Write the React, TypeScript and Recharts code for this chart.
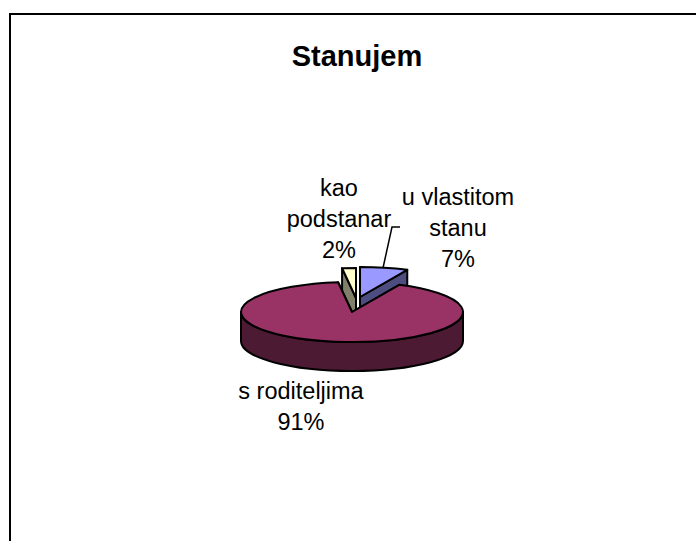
// Stanujem - flattened 3D pie drawn through Pie's own angles
import { PieChart, Pie } from 'recharts';

const categories = ['kao podstanar', 'u vlastitom stanu', 's roditeljima'];
const shares = [2, 7, 91];
const labelLines = [['kao', 'podstanar', '2%'], ['u vlastitom', 'stanu', '7%'], ['s roditeljima', '91%']];
const topColors = ['#FFFFCC', '#9999FF', '#993366'];
const sideColors = ['#80806A', '#4D4D80', '#4D1A33'];

const W = 696;
const H = 541;
const TILT = 30 / 111;
const DEPTH = 29;
const EXPLODE = [[4, -14], [8, -15], [0, 0]];
const LABEL_POS = [[339, 188], [458, 197], [301, 391]];
const LINE_H = 31;

const data = categories.map((name, i) => ({ name, value: shares[i] }));

const rad = (a: number) => (a * Math.PI) / 180;

function Slice3D(props: any) {
  const { cx, cy, outerRadius: r, startAngle, endAngle, index } = props;
  const [dx, dy] = EXPLODE[index];
  const ox = cx + dx;
  const oy = cy + dy;
  const ry = r * TILT;
  const pt = (a: number, down = 0) => [ox + r * Math.cos(rad(a)), oy - ry * Math.sin(rad(a)) + down];
  const stroke = { stroke: '#000', strokeWidth: 2, strokeLinejoin: 'round' as const };

  // cut faces
  const cut = (a: number) => {
    const [x, y] = pt(a);
    const [xd, yd] = pt(a, DEPTH);
    return `M${ox} ${oy}L${x} ${y}L${xd} ${yd}L${ox} ${oy + DEPTH}Z`;
  };

  // outer wall, front half only
  const from = Math.min(startAngle, 0);
  const to = Math.max(endAngle, -180);
  let wall = null;
  if (from > to) {
    const [sx, sy] = pt(from);
    const [ex, ey] = pt(to);
    const [bx, by] = pt(to, DEPTH);
    const [fx, fy] = pt(from, DEPTH);
    wall = `M${sx} ${sy}A${r} ${ry} 0 0 1 ${ex} ${ey}L${bx} ${by}A${r} ${ry} 0 0 0 ${fx} ${fy}Z`;
  }

  const [tx, ty] = pt(startAngle);
  const [ax, ay] = pt(endAngle);
  const large = Math.abs(startAngle - endAngle) > 180 ? 1 : 0;
  const top = `M${ox} ${oy}L${tx} ${ty}A${r} ${ry} 0 ${large} 1 ${ax} ${ay}Z`;

  return (
    <g>
      <path d={cut(startAngle)} fill={sideColors[index]} {...stroke} />
      <path d={cut(endAngle)} fill={sideColors[index]} {...stroke} />
      {wall && <path d={wall} fill={sideColors[index]} {...stroke} />}
      <path d={top} fill={topColors[index]} {...stroke} />
    </g>
  );
}

function SliceLabel(props: any) {
  const { index } = props;
  const [x, y] = LABEL_POS[index];
  return (
    <g>
      {index === 1 && <polyline points="383,268 392,227 400,227" fill="none" stroke="#000" strokeWidth={1.5} />}
      {labelLines[index].map((line, i) => (
        <text key={line} x={x} y={y + i * LINE_H} textAnchor="middle" dominantBaseline="central" fontSize={23.5} fill="#000" fontFamily="'Liberation Sans', Arial, sans-serif">
          {line}
        </text>
      ))}
    </g>
  );
}

export default function App() {
  return (
    <div style={{ position: 'absolute', left: 0, top: 0, width: W, height: H, overflow: 'hidden', background: '#fff' }}>
      <div style={{ position: 'absolute', left: 9, top: 13, width: W, height: H, borderLeft: '2px solid #000', borderTop: '2px solid #000' }} />
      <div style={{ position: 'absolute', left: 0, top: 0 }}>
        <PieChart width={W} height={H} margin={{ top: 0, right: 0, bottom: 0, left: 0 }}>
          <text x={357} y={56} textAnchor="middle" dominantBaseline="central" fontSize={29} fontWeight="bold" fill="#000" fontFamily="'Liberation Sans', Arial, sans-serif">
            Stanujem
          </text>
          <Pie
            data={data}
            dataKey="value"
            nameKey="name"
            cx={352}
            cy={312}
            innerRadius={0}
            outerRadius={111}
            startAngle={97.2}
            endAngle={-262.8}
            paddingAngle={0}
            shape={Slice3D}
            label={SliceLabel}
            labelLine={false}
            isAnimationActive={false}
          />
        </PieChart>
      </div>
    </div>
  );
}
